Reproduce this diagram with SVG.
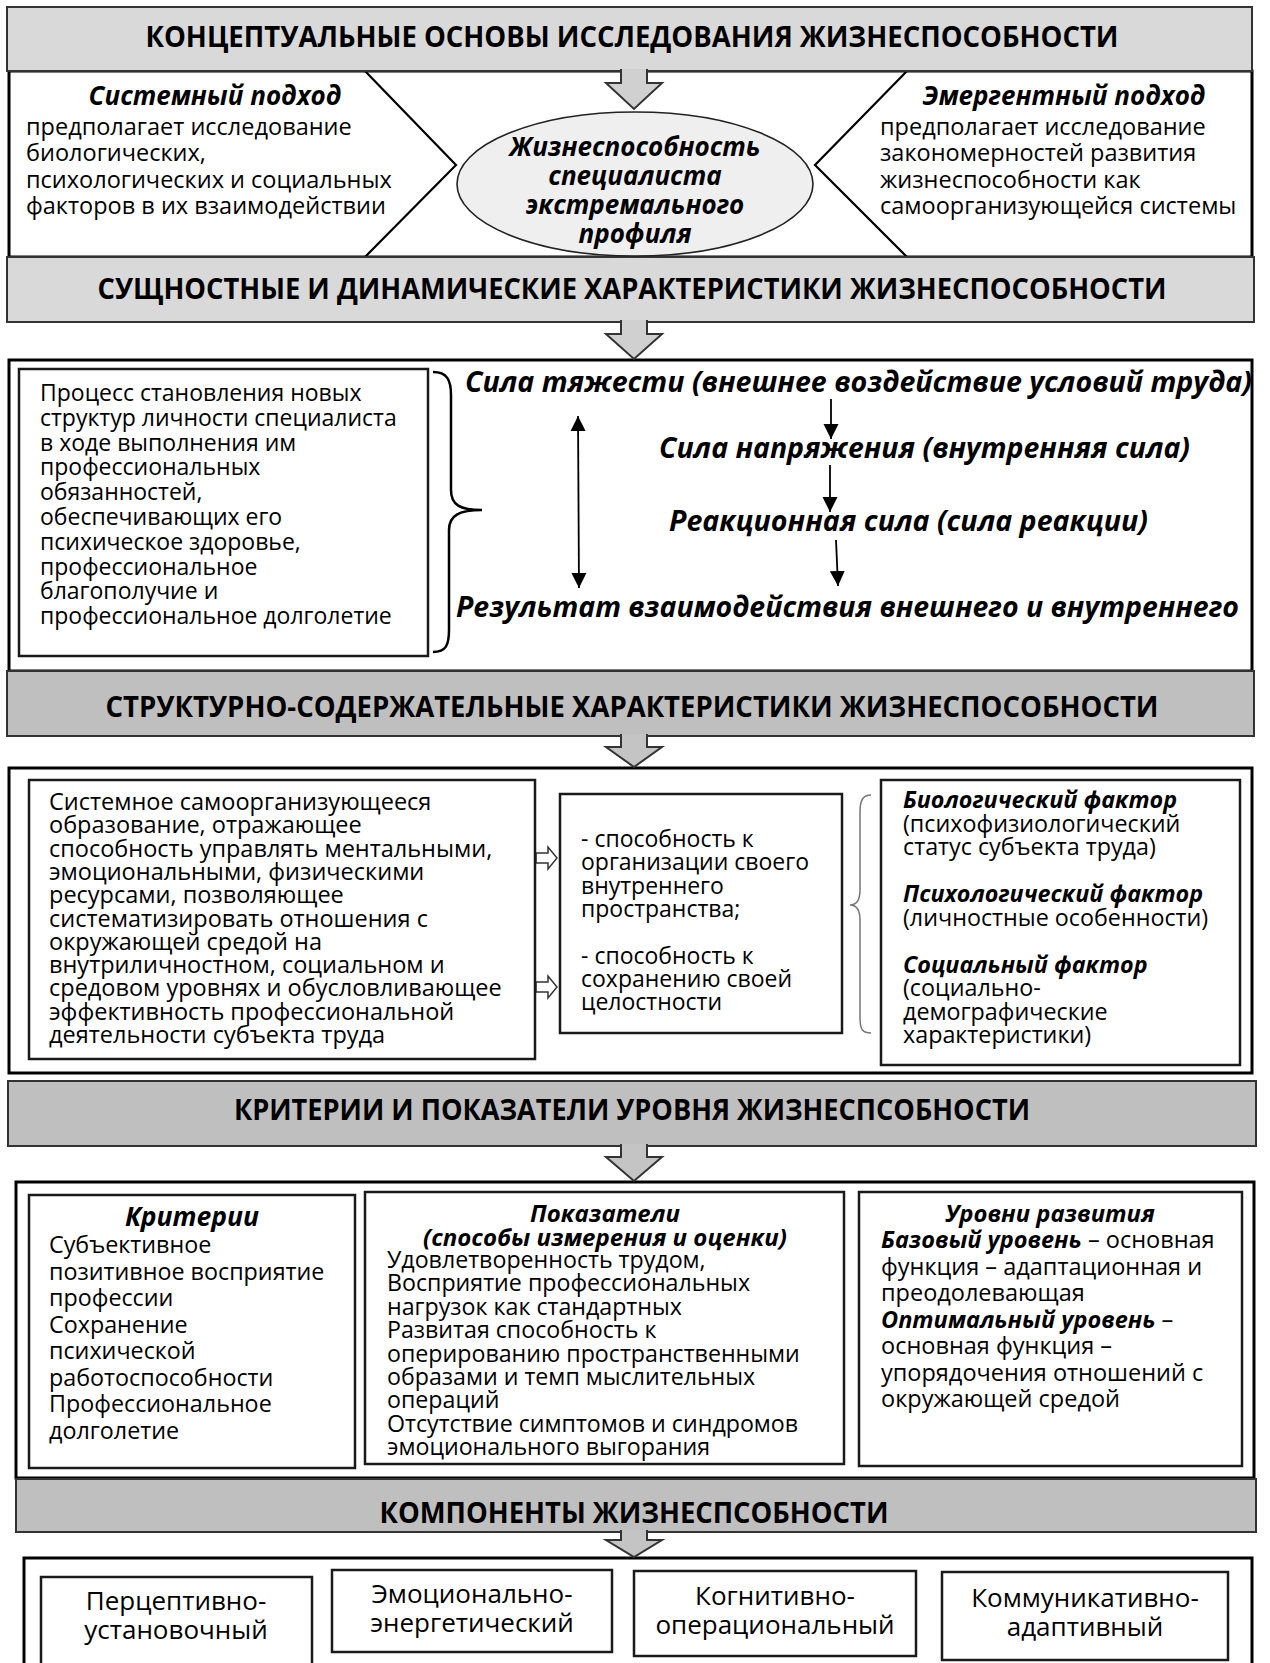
<svg xmlns="http://www.w3.org/2000/svg" width="1270" height="1663" viewBox="0 0 1270 1663">
<defs>
<style>
.sec{fill:#fff;stroke:#000;stroke-width:3}
.h1{fill:#d9d9d9;stroke:#333;stroke-width:2}
.h2{fill:#bfbfbf;stroke:#333;stroke-width:2}
.box{fill:#fff;stroke:#1a1a1a;stroke-width:2.5}
.barrow{stroke:#333;stroke-width:2;stroke-linejoin:miter}
.ht{font-family:'Open Sans','Liberation Sans',sans-serif;font-weight:700;font-size:28px;text-anchor:middle;fill:#000}
.t{font-family:'Open Sans','Liberation Sans',sans-serif;font-size:23.5px;fill:#000}
.bi{font-weight:700;font-style:italic}
.c{text-anchor:middle}
.ln{stroke:#000;stroke-width:1.8;fill:none}
</style>
<marker id="ah" viewBox="0 0 10 10" refX="10" refY="5" markerUnits="userSpaceOnUse" markerWidth="15" markerHeight="16" orient="auto-start-reverse">
<path d="M0,0 L10,5 L0,10 z" fill="#000"/>
</marker>
</defs>
<rect width="1270" height="1663" fill="#fff"/>

<!-- sections -->
<g id="section1">
<rect class="sec" x="9" y="71" width="1243" height="186"/>
<path class="ln" style="stroke-width:2.2" d="M365,71 L456,165 L365,257"/>
<path class="ln" style="stroke-width:2.2" d="M907,71 L815,165 L907,257"/>
</g>
<g id="section2"><rect class="sec" x="9" y="360" width="1243" height="311"/></g>
<g id="section3"><rect class="sec" x="9" y="768" width="1243" height="305"/></g>
<g id="section4"><rect class="sec" x="16" y="1182" width="1238" height="296"/></g>
<g id="section5"><rect class="sec" x="24" y="1558" width="1228" height="115"/></g>

<!-- headers -->
<g id="header1"><rect class="h1" x="7" y="7" width="1245" height="64"/>
<text class="ht" x="632" y="47" textLength="973" lengthAdjust="spacingAndGlyphs">КОНЦЕПТУАЛЬНЫЕ ОСНОВЫ ИССЛЕДОВАНИЯ ЖИЗНЕСПОСОБНОСТИ</text></g>
<g id="header2"><rect class="h1" x="7" y="257" width="1247" height="65"/>
<text class="ht" x="632" y="299" textLength="1069" lengthAdjust="spacingAndGlyphs">СУЩНОСТНЫЕ И ДИНАМИЧЕСКИЕ ХАРАКТЕРИСТИКИ ЖИЗНЕСПОСОБНОСТИ</text></g>
<g id="header3"><rect class="h2" x="7" y="671" width="1247" height="65"/>
<text class="ht" x="632" y="717" textLength="1053" lengthAdjust="spacingAndGlyphs">СТРУКТУРНО-СОДЕРЖАТЕЛЬНЫЕ ХАРАКТЕРИСТИКИ ЖИЗНЕСПОСОБНОСТИ</text></g>
<g id="header4"><rect class="h2" x="8" y="1081" width="1248" height="65"/>
<text class="ht" x="632" y="1120" textLength="796" lengthAdjust="spacingAndGlyphs">КРИТЕРИИ И ПОКАЗАТЕЛИ УРОВНЯ ЖИЗНЕСПСОБНОСТИ</text></g>
<g id="header5"><rect class="h2" x="16" y="1479" width="1240" height="53"/>
<text class="ht" x="634" y="1523" textLength="509" lengthAdjust="spacingAndGlyphs">КОМПОНЕНТЫ ЖИЗНЕСПСОБНОСТИ</text></g>

<!-- connectors -->
<g id="connectors">
<path class="barrow" fill="#d0d0d0" d="M621,69 V83 H606 L634,109 L662,83 H647 V69"/>
<path class="barrow" fill="#d0d0d0" d="M621,320 V334 H606 L634,359 L662,334 H647 V320"/>
<path class="barrow" fill="#c4c4c4" d="M621,734 V747 H606 L634,767 L662,747 H647 V734"/>
<path class="barrow" fill="#c4c4c4" d="M621,1144 V1157 H606 L634,1181 L662,1157 H647 V1144"/>
<path class="barrow" fill="#c4c4c4" d="M621,1530 V1540 H606 L634,1557 L662,1540 H647 V1530"/>
<line class="ln" x1="578" y1="416" x2="579" y2="588" marker-start="url(#ah)" marker-end="url(#ah)"/>
<line class="ln" x1="831" y1="399" x2="831" y2="439" marker-end="url(#ah)"/>
<line class="ln" x1="830" y1="465" x2="830" y2="512" marker-end="url(#ah)"/>
<line class="ln" x1="836" y1="540" x2="838" y2="586" marker-end="url(#ah)"/>
<path fill="#fff" stroke="#333" stroke-width="1.5" d="M536,853 H548 V847 L557,858 L548,869 V863 H536 Z"/>
<path fill="#fff" stroke="#333" stroke-width="1.5" d="M536,982 H548 V976 L557,987 L548,998 V992 H536 Z"/>
</g>

<!-- section 1 nodes -->
<g id="systemic">
<text class="t bi c" x="215" y="105" style="font-size:26px">Системный подход</text>
<text class="t" x="26" y="135">предполагает исследование<tspan x="26" dy="26.3">биологических,</tspan><tspan x="26" dy="26.3">психологических и социальных</tspan><tspan x="26" dy="26.3">факторов в их взаимодействии</tspan></text>
</g>
<g id="emergent">
<text class="t bi c" x="1064" y="105" style="font-size:26px">Эмергентный подход</text>
<text class="t" x="880" y="135">предполагает исследование<tspan x="880" dy="26.3">закономерностей развития</tspan><tspan x="880" dy="26.3">жизнеспособности как</tspan><tspan x="880" dy="26.3">самоорганизующейся системы</tspan></text>
</g>
<g id="center">
<ellipse cx="635" cy="184" rx="178" ry="72" fill="#efefef" stroke="#222" stroke-width="1.6"/>
<text class="t bi c" x="635" y="156" style="font-size:26px">Жизнеспособность<tspan x="635" dy="29">специалиста</tspan><tspan x="635" dy="29">экстремального</tspan><tspan x="635" dy="29">профиля</tspan></text>
</g>

<!-- section 2 nodes -->
<g id="process">
<rect class="box" x="19" y="369" width="409" height="287"/>
<text class="t" x="40" y="401" style="font-size:23px">Процесс становления новых<tspan x="40" dy="24.8">структур личности специалиста</tspan><tspan x="40" dy="24.8">в ходе выполнения им</tspan><tspan x="40" dy="24.8">профессиональных</tspan><tspan x="40" dy="24.8">обязанностей,</tspan><tspan x="40" dy="24.8">обеспечивающих его</tspan><tspan x="40" dy="24.8">психическое здоровье,</tspan><tspan x="40" dy="24.8">профессиональное</tspan><tspan x="40" dy="24.8">благополучие и</tspan><tspan x="40" dy="24.8">профессиональное долголетие</tspan></text>
<path class="ln" style="stroke-width:2.5" d="M433,372 C447,372 451,380 451,395 L451,490 C451,505 460,510 482,510 C460,510 449,515 449,530 L449,630 C449,645 446,652 433,652"/>
</g>
<g id="gravity"><text class="t bi" x="465" y="392" style="font-size:28.5px" textLength="787" lengthAdjust="spacingAndGlyphs">Сила тяжести (внешнее воздействие условий труда)</text></g>
<g id="tension"><text class="t bi" x="659" y="458" style="font-size:28.5px" textLength="531" lengthAdjust="spacingAndGlyphs">Сила напряжения (внутренняя сила)</text></g>
<g id="reaction"><text class="t bi" x="669" y="531" style="font-size:28.5px" textLength="479" lengthAdjust="spacingAndGlyphs">Реакционная сила (сила реакции)</text></g>
<g id="result"><text class="t bi" x="456" y="617" style="font-size:28.5px" textLength="783" lengthAdjust="spacingAndGlyphs">Результат взаимодействия внешнего и внутреннего</text></g>

<!-- section 3 nodes -->
<g id="definition">
<rect class="box" x="29" y="780" width="506" height="279"/>
<text class="t" x="49" y="810" style="font-size:23.5px">Системное самоорганизующееся<tspan x="49" dy="23.3">образование, отражающее</tspan><tspan x="49" dy="23.3">способность управлять ментальными,</tspan><tspan x="49" dy="23.3">эмоциональными, физическими</tspan><tspan x="49" dy="23.3">ресурсами, позволяющее</tspan><tspan x="49" dy="23.3">систематизировать отношения с</tspan><tspan x="49" dy="23.3">окружающей средой на</tspan><tspan x="49" dy="23.3">внутриличностном, социальном и</tspan><tspan x="49" dy="23.3">средовом уровнях и обусловливающее</tspan><tspan x="49" dy="23.3">эффективность профессиональной</tspan><tspan x="49" dy="23.3">деятельности субъекта труда</tspan></text>
</g>
<g id="abilities">
<rect class="box" x="560" y="794" width="282" height="239"/>
<text class="t" x="581" y="847" style="font-size:23px">- способность к<tspan x="581" dy="23.3">организации своего</tspan><tspan x="581" dy="23.3">внутреннего</tspan><tspan x="581" dy="23.3">пространства;</tspan><tspan x="581" dy="46.6">- способность к</tspan><tspan x="581" dy="23.3">сохранению своей</tspan><tspan x="581" dy="23.3">целостности</tspan></text>
<path fill="none" stroke="#777" stroke-width="1.5" d="M871,795 C863,795 860,800 860,812 L860,890 C860,900 857,905 850,905 C857,905 860,910 860,920 L860,1018 C860,1030 863,1033 871,1033"/>
</g>
<g id="factors">
<rect class="box" x="881" y="780" width="359" height="285"/>
<text class="t" x="903" y="808" style="font-size:23.3px"><tspan class="bi">Биологический фактор</tspan><tspan x="903" dy="23.5">(психофизиологический</tspan><tspan x="903" dy="23.5">статус субъекта труда)</tspan><tspan x="903" dy="47" class="bi">Психологический фактор</tspan><tspan x="903" dy="23.5">(личностные особенности)</tspan><tspan x="903" dy="47" class="bi">Социальный фактор</tspan><tspan x="903" dy="23.5">(социально-</tspan><tspan x="903" dy="23.5">демографические</tspan><tspan x="903" dy="23.5">характеристики)</tspan></text>
</g>

<!-- section 4 nodes -->
<g id="criteria">
<rect class="box" x="29" y="1195" width="326" height="273"/>
<text class="t bi c" x="192" y="1226" style="font-size:26.5px">Критерии</text>
<text class="t" x="49" y="1253" style="font-size:23.3px">Субъективное<tspan x="49" dy="26.5">позитивное восприятие</tspan><tspan x="49" dy="26.5">профессии</tspan><tspan x="49" dy="26.5">Сохранение</tspan><tspan x="49" dy="26.5">психической</tspan><tspan x="49" dy="26.5">работоспособности</tspan><tspan x="49" dy="26.5">Профессиональное</tspan><tspan x="49" dy="26.5">долголетие</tspan></text>
</g>
<g id="indicators">
<rect class="box" x="365" y="1192" width="479" height="272"/>
<text class="t bi c" x="605" y="1222" style="font-size:24px">Показатели<tspan x="605" dy="24">(способы измерения и оценки)</tspan></text>
<text class="t" x="387" y="1268" style="font-size:23.2px">Удовлетворенность трудом,<tspan x="387" dy="23.4">Восприятие профессиональных</tspan><tspan x="387" dy="23.4">нагрузок как стандартных</tspan><tspan x="387" dy="23.4">Развитая способность к</tspan><tspan x="387" dy="23.4">оперированию пространственными</tspan><tspan x="387" dy="23.4">образами и темп мыслительных</tspan><tspan x="387" dy="23.4">операций</tspan><tspan x="387" dy="23.4">Отсутствие симптомов и синдромов</tspan><tspan x="387" dy="23.4">эмоционального выгорания</tspan></text>
</g>
<g id="levels">
<rect class="box" x="859" y="1192" width="383" height="274"/>
<text class="t bi c" x="1050" y="1222" style="font-size:23.8px">Уровни развития</text>
<text class="t" x="881" y="1248" style="font-size:23.5px"><tspan class="bi">Базовый уровень</tspan> – основная<tspan x="881" dy="26.5">функция – адаптационная и</tspan><tspan x="881" dy="26.5">преодолевающая</tspan><tspan x="881" dy="26.5" class="bi">Оптимальный уровень</tspan><tspan> –</tspan><tspan x="881" dy="26.5">основная функция –</tspan><tspan x="881" dy="26.5">упорядочения отношений с</tspan><tspan x="881" dy="26.5">окружающей средой</tspan></text>
</g>

<!-- section 5 nodes -->
<g id="comp1"><rect class="box" x="41" y="1577" width="271" height="95"/>
<text class="t c" x="176" y="1610" style="font-size:26px">Перцептивно-<tspan x="176" dy="29">установочный</tspan></text></g>
<g id="comp2"><rect class="box" x="332" y="1570" width="280" height="82"/>
<text class="t c" x="472" y="1603" style="font-size:26px">Эмоционально-<tspan x="472" dy="29">энергетический</tspan></text></g>
<g id="comp3"><rect class="box" x="634" y="1571" width="282" height="85"/>
<text class="t c" x="775" y="1605" style="font-size:26px">Когнитивно-<tspan x="775" dy="29">операциональный</tspan></text></g>
<g id="comp4"><rect class="box" x="942" y="1572" width="286" height="88"/>
<text class="t c" x="1085" y="1607" style="font-size:26px">Коммуникативно-<tspan x="1085" dy="29">адаптивный</tspan></text></g>
</svg>
